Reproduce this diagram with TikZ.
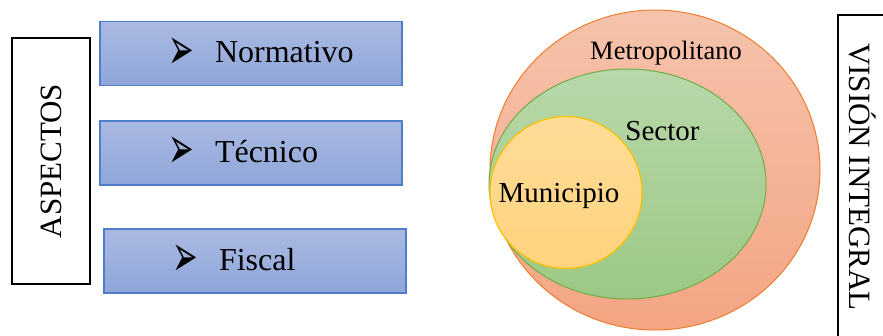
\documentclass[tikz,border=0pt]{standalone}
\usepackage{fontspec}
\usepackage{graphicx}
\setmainfont{Liberation Serif}
\newfontfamily\arrowfont{DejaVu Sans}
\usetikzlibrary{positioning}

\definecolor{boxtop}{HTML}{AAB9E2}
\definecolor{boxbot}{HTML}{8FA6D9}
\definecolor{boxline}{HTML}{4F7CCB}
\definecolor{metrotop}{HTML}{F5C3AC}
\definecolor{metrobot}{HTML}{F4A583}
\definecolor{metroline}{HTML}{ED7D31}
\definecolor{sectop}{HTML}{B8D8AA}
\definecolor{secbot}{HTML}{9CC884}
\definecolor{secline}{HTML}{70AD47}
\definecolor{munitop}{HTML}{FFDC98}
\definecolor{munibot}{HTML}{FFD37E}
\definecolor{muniline}{HTML}{FFC000}

\newcommand{\bul}{\makebox[47pt][l]{\raisebox{-6.5pt}{\scalebox{0.85}[1.65]{\arrowfont\fontsize{36}{36}\selectfont ➢}}}}

\begin{document}
\begin{tikzpicture}[x=1pt,y=-1pt,
  item/.style={draw=boxline,line width=1.2pt,top color=boxtop,bottom color=boxbot,
    minimum height=64pt,text width=302pt,inner xsep=0pt,align=left,
    font=\fontsize{32}{36}\selectfont},
  sidebox/.style={draw=black,line width=2pt,fill=white,inner sep=0pt,
    font=\fontsize{31}{34}\selectfont},
  lbl/.style={inner sep=0pt}]
\clip (0,0) rectangle (883,335);

% left column
\node[sidebox,rotate=90,minimum width=246pt,minimum height=78pt] (asp) at (51,161) {ASPECTOS};
\node[item] (norm) at (251,53.5) {\hspace*{68pt}\bul Normativo};
\node[item] (tec) at (251,153) {\hspace*{68pt}\bul Técnico};
\node[item] (fis) at (255,261) {\hspace*{68pt}\bul Fiscal};

% nested areas
\shade[draw=metroline,line width=1pt,top color=metrotop,bottom color=metrobot]
  (655,170) ellipse [x radius=165,y radius=160];
\shade[draw=secline,line width=1pt,top color=sectop,bottom color=secbot]
  (627.5,184) ellipse [x radius=138.5,y radius=115];
\shade[draw=muniline,line width=1.2pt,top color=munitop,bottom color=munibot]
  (566,192.5) ellipse [x radius=76,y radius=76];
\node[lbl,font=\fontsize{26.5}{30}\selectfont] (metro) at (666,53) {Metropolitano};
\node[lbl,font=\fontsize{29}{32}\selectfont] (sec) at (662.5,131) {Sector};
\node[lbl,font=\fontsize{29}{32}\selectfont] (muni) at (559,196) {Municipio};

% right label
\node[sidebox,rotate=-90,minimum width=324pt,minimum height=50pt] (vis) at (863,177) {VISIÓN INTEGRAL};
\end{tikzpicture}
\end{document}
